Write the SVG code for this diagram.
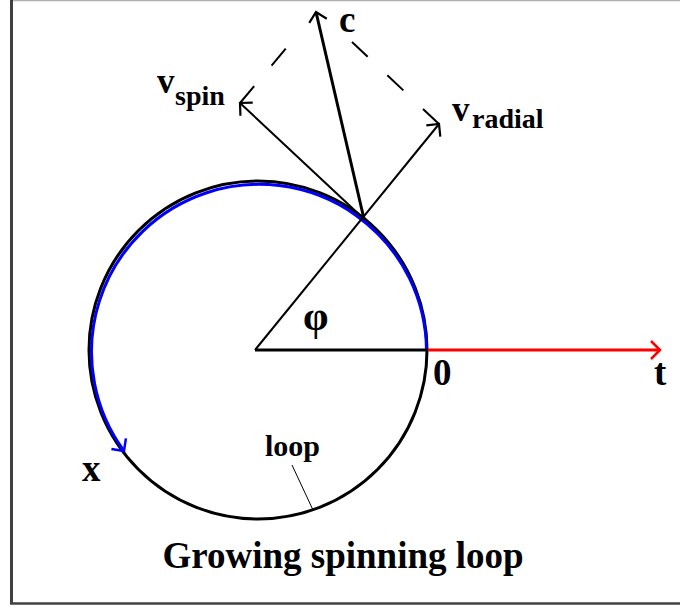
<svg xmlns="http://www.w3.org/2000/svg" width="680" height="608" viewBox="0 0 680 608">
<style>
text{font-family:"Liberation Serif","Times New Roman",serif;font-weight:bold;fill:#000}
.big{font-size:37px}
.v{font-size:35px}
.sub{font-size:28px}
.vec{stroke:#000;stroke-width:2;fill:none}
.dash{stroke:#000;stroke-width:2;fill:none;stroke-dasharray:22 27}
</style>
<defs>
<marker id="ak" viewBox="-14 -14 28 28" markerWidth="28" markerHeight="28" refX="0" refY="0" orient="auto" markerUnits="userSpaceOnUse"><path d="M-9,-9 L0,0 L-9,9" fill="none" stroke="#000" stroke-width="2.2"/></marker>
<marker id="ar" viewBox="-14 -14 28 28" markerWidth="28" markerHeight="28" refX="0" refY="0" orient="auto" markerUnits="userSpaceOnUse"><path d="M-9,-9 L0,0 L-9,9" fill="none" stroke="#ff0000" stroke-width="2.5"/></marker>
<marker id="ab" viewBox="-14 -14 28 28" markerWidth="28" markerHeight="28" refX="0" refY="0" orient="auto" markerUnits="userSpaceOnUse"><path d="M-9,-9 L0,0 L-9,9" fill="none" stroke="#0000ff" stroke-width="2.5"/></marker>
</defs>
<rect width="680" height="608" fill="#fff"/>
<g id="frame">
<line x1="11" y1="0.5" x2="680" y2="0.5" stroke="#b0b0b0" stroke-width="1.5"/>
<line x1="11.5" y1="0" x2="11.5" y2="604" stroke="#404040" stroke-width="3"/>
<line x1="10" y1="603.5" x2="680" y2="603.5" stroke="#404040" stroke-width="2.5"/>
</g>
<g id="loop">
<circle cx="258" cy="350" r="169" fill="none" stroke="#000" stroke-width="3"/>
<path d="M426.5,350 A167.5 167.5 0 1 0 124,451" fill="none" stroke="#0000ff" stroke-width="3" marker-end="url(#ab)"/>
</g>
<g id="connectors">
<line x1="255" y1="350" x2="428" y2="350" stroke="#000" stroke-width="3"/>
<line x1="428" y1="350" x2="660" y2="350" stroke="#ff0000" stroke-width="3" marker-end="url(#ar)"/>
<line class="vec" x1="255" y1="350" x2="439" y2="124" marker-end="url(#ak)"/>
<line class="vec" x1="364" y1="219" x2="240" y2="103" marker-end="url(#ak)"/>
<line x1="364" y1="219" x2="316" y2="12" stroke="#000" stroke-width="3" marker-end="url(#ak)"/>
<line class="dash" x1="240" y1="103" x2="288" y2="46"/>
<line class="dash" x1="439" y1="124" x2="352" y2="42"/>
<line x1="292" y1="465" x2="313" y2="510" stroke="#000" stroke-width="1"/>
</g>
<g id="labels">
<text class="big" x="339" y="32">c</text>
<text class="v" x="157" y="93">v</text>
<text class="sub" x="175" y="105">spin</text>
<text class="v" x="452" y="121">v</text>
<text class="sub" x="472" y="128">radial</text>
<text x="303" y="330" style="font-size:41px">φ</text>
<text class="big" x="433" y="385">0</text>
<text class="big" x="654" y="385">t</text>
<text class="big" x="82" y="481">x</text>
<text x="265" y="456" style="font-size:30px">loop</text>
<text class="big" x="343" y="568" text-anchor="middle">Growing spinning loop</text>
</g>
</svg>
